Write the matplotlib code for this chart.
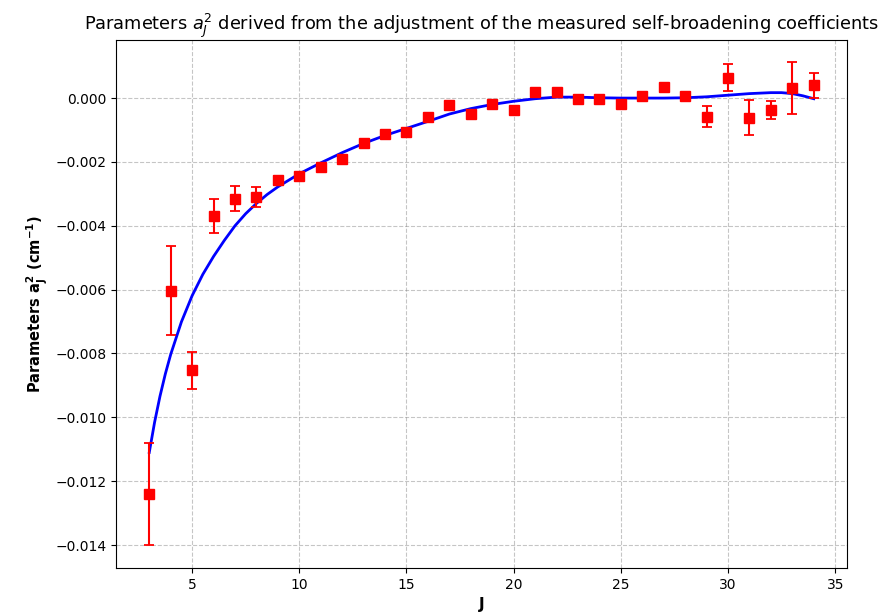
import numpy as np
import matplotlib
matplotlib.use("Agg")
from matplotlib import pyplot as plt

# measured parameters a_J^2 (cm^-1) with their uncertainties
J = [3, 4, 5, 6, 7, 8, 9, 10, 11, 12, 13, 14, 15, 16, 17, 18,
     19, 20, 21, 22, 23, 24, 25, 26, 27, 28, 29, 30, 31, 32, 33, 34]
a2 = [-0.0124, -0.00603, -0.00853, -0.0037, -0.00315, -0.0031, -0.00258, -0.00244,
      -0.00217, -0.00192, -0.00142, -0.00113, -0.00105, -0.0006, -0.00021, -0.0005,
      -0.00019, -0.00037, 0.00018, 0.0002, -0.00003, -0.00004, -0.00017, 0.00008,
      0.00034, 0.00006, -0.00058, 0.00064, -0.00061, -0.00038, 0.00032, 0.0004]
a2_err = [0.0016, 0.0014, 0.00057, 0.00054, 0.0004, 0.0003, 0.00015, 0.0001,
          0.0001, 0.00006, 0.00005, 0.00005, 0.00005, 0.00005, 0.00005, 0.00005,
          0.00005, 0.00005, 0.0001, 0.00008, 0.0001, 0.00005, 0.0001, 0.00005,
          0.00008, 0.0001, 0.00034, 0.00042, 0.00056, 0.00028, 0.00081, 0.00039]

# fitted curve
fit_J = [3, 3.25, 3.5, 3.75, 4, 4.5, 5, 5.5, 6, 6.5, 7, 7.5, 8, 8.5, 9, 10, 11, 12,
         13, 14, 15, 16, 17, 18, 19, 20, 21, 22, 23, 24, 25, 26, 27, 28, 29,
         30, 31, 32, 32.5, 33, 33.5, 34]
fit_a2 = [-0.0111, -0.01015, -0.00934, -0.00864, -0.00803, -0.00701, -0.00619, -0.00552,
          -0.00496, -0.00446, -0.004, -0.00362, -0.0033, -0.00302, -0.00278, -0.00237,
          -0.00203, -0.00171, -0.00142, -0.00117, -0.00095, -0.00073, -0.0005, -0.00033,
          -0.0002, -0.0001, -0.00002, 0.00003, 0.00003, 0.00001, 0.0, 0.0, 0.0,
          0.00001, 0.00004, 0.00009, 0.00014, 0.00017, 0.00017, 0.00014, 0.00007,
          -0.00002]

fig = plt.figure(figsize=(8.96, 6.15), dpi=100)
ax = fig.add_axes([0.1295, 0.0764, 0.8158, 0.8586])

ax.plot(fit_J, fit_a2, color="blue", lw=2, zorder=2)
ax.errorbar(J, a2, yerr=a2_err, fmt="s", color="red", ms=7, capsize=3.5,
            elinewidth=1.5, capthick=1.3, zorder=3)

ax.set_xlim(1.45, 35.55)
ax.set_ylim(-0.01472, 0.00182)
ax.set_yticks(np.arange(-0.014, 0.0001, 0.002))
ax.grid(True, linestyle="--", color="gray", alpha=0.45)
ax.tick_params(labelsize=10)

ax.set_title(r"Parameters $a_J^2$ derived from the adjustment of the measured self-broadening coefficients",
             fontsize=12.8, pad=6)
ax.set_xlabel("J", fontsize=11, fontweight="bold")
ax.set_ylabel(r"Parameters $\mathbf{a_J^2}$ (cm$^{\mathbf{-1}}$)", fontsize=10.5, fontweight="bold")

fig.savefig("out.png", dpi=100)
